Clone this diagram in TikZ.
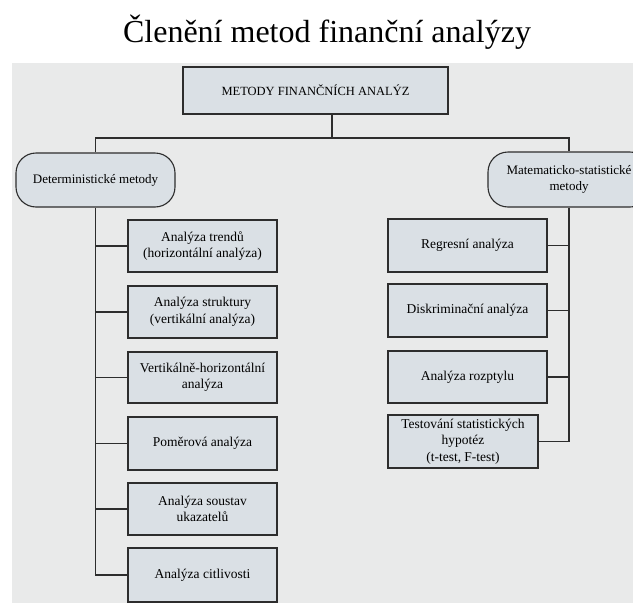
\documentclass[tikz,border=0pt]{standalone}
\usepackage{fontspec}
\setmainfont{Liberation Serif}
\usepackage{xcolor}
\usetikzlibrary{positioning, calc}

\definecolor{scangray}{RGB}{233,234,234}
\definecolor{boxfill}{RGB}{218,224,229}
\definecolor{inkline}{RGB}{45,45,45}

\tikzset{
  methodbox/.style={draw=inkline, line width=1.1pt, fill=boxfill, align=center,
    inner sep=2pt, font=\fontsize{13.5}{16.5}\selectfont},
  groupbox/.style={methodbox, rounded corners=20pt, font=\fontsize{13}{16}\selectfont},
  link/.style={draw=inkline, line width=1.1pt}
}

\begin{document}
\begin{tikzpicture}[x=1pt, y=-1pt]
    \useasboundingbox (0,0) rectangle (633,603);
    \fill[scangray] (12,63) rectangle (633,603);

    \node[font=\fontsize{32}{38}\selectfont] (title) at (327,32) {Členění metod finanční analýzy};

    \node[methodbox, minimum width=265pt, minimum height=47pt, font=\fontsize{12.5}{15}\selectfont] (top) at (315.5,90.5) {METODY FINANČNÍCH ANALÝZ};

    \node[groupbox, minimum width=159pt, minimum height=54pt] (det) at (95.5,180) {Deterministické metody};
    \node[groupbox, minimum width=162pt, minimum height=55pt] (mat) at (569,179.5) {Matematicko-statistické\\metody};

    % deterministicke metody
    \node[methodbox, minimum width=149pt, minimum height=52pt] (trend) at (202.5,246) {Analýza trendů\\(horizontální analýza)};
    \node[methodbox, minimum width=149pt, minimum height=52pt] (struct) at (202.5,312) {Analýza struktury\\(vertikální analýza)};
    \node[methodbox, minimum width=149pt, minimum height=51pt] (vh) at (202.5,377.5) {Vertikálně-horizontální\\analýza};
    \node[methodbox, minimum width=149pt, minimum height=53pt] (ratio) at (202.5,443.5) {Poměrová analýza};
    \node[methodbox, minimum width=149pt, minimum height=52pt] (system) at (202.5,509) {Analýza soustav\\ukazatelů};
    \node[methodbox, minimum width=149pt, minimum height=54pt] (sens) at (202.5,575) {Analýza citlivosti};

    % matematicko-statisticke metody
    \node[methodbox, minimum width=159pt, minimum height=53pt] (regr) at (467.5,245.5) {Regresní analýza};
    \node[methodbox, minimum width=159pt, minimum height=53pt] (discr) at (467.5,310.5) {Diskriminační analýza};
    \node[methodbox, minimum width=159pt, minimum height=52pt] (var) at (467.5,377) {Analýza rozptylu};
    \node[methodbox, minimum width=150pt, minimum height=53pt] (test) at (463,441.5) {Testování statistických\\hypotéz\\(t-test, F-test)};

    \coordinate (split) at (332,138);
    \draw[link] (split |- top.south) -- (split);
    \draw[link] (det.north) |- (split) -| (mat.north);

    \foreach \n in {trend, struct, vh, ratio, system}
        \draw[link] (det.south |- \n.west) -- (\n.west);
    \draw[link] (det.south) |- (sens.west);

    \foreach \n in {regr, discr, var}
        \draw[link] (mat.south |- \n.east) -- (\n.east);
    \draw[link] (mat.south) |- (test.east);
\end{tikzpicture}
\end{document}
